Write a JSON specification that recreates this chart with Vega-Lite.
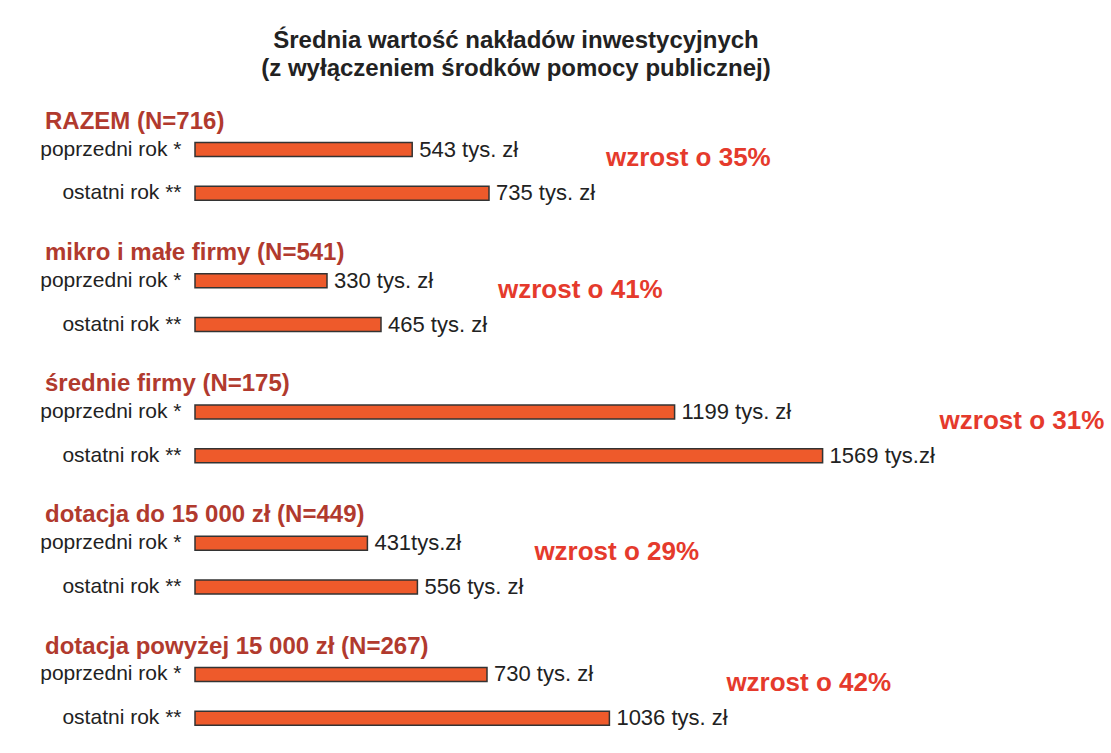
{
  "$schema": "https://vega.github.io/schema/vega-lite/v6.json",
  "width": 910,
  "height": 656,
  "autosize": {"type": "none"},
  "padding": {"left": 195, "top": 84, "right": 6, "bottom": 13},
  "background": "#ffffff",
  "config": {"font": "Liberation Sans", "view": {"stroke": null}},
  "title": {
    "text": ["Średnia wartość nakładów inwestycyjnych", "(z wyłączeniem środków pomocy publicznej)"],
    "fontSize": 24,
    "fontWeight": "bold",
    "color": "#222222",
    "anchor": "middle",
    "frame": "group",
    "dx": -134,
    "lineHeight": 28,
    "offset": 3
  },
  "data": {
    "values": [
      {"group": "RAZEM (N=716)", "period": "poprzedni rok *", "key": "RAZEM (N=716)|poprzedni rok *", "value": 543, "label": "543 tys. zł", "growth": null},
      {"group": "RAZEM (N=716)", "period": "ostatni rok **", "key": "RAZEM (N=716)|ostatni rok **", "value": 735, "label": "735 tys. zł", "growth": "wzrost o 35%"},
      {"group": "mikro i małe firmy (N=541)", "period": "poprzedni rok *", "key": "mikro i małe firmy (N=541)|poprzedni rok *", "value": 330, "label": "330 tys. zł", "growth": null},
      {"group": "mikro i małe firmy (N=541)", "period": "ostatni rok **", "key": "mikro i małe firmy (N=541)|ostatni rok **", "value": 465, "label": "465 tys. zł", "growth": "wzrost o 41%"},
      {"group": "średnie firmy (N=175)", "period": "poprzedni rok *", "key": "średnie firmy (N=175)|poprzedni rok *", "value": 1199, "label": "1199 tys. zł", "growth": null},
      {"group": "średnie firmy (N=175)", "period": "ostatni rok **", "key": "średnie firmy (N=175)|ostatni rok **", "value": 1569, "label": "1569 tys.zł", "growth": "wzrost o 31%"},
      {"group": "dotacja do 15 000 zł (N=449)", "period": "poprzedni rok *", "key": "dotacja do 15 000 zł (N=449)|poprzedni rok *", "value": 431, "label": "431tys.zł", "growth": null},
      {"group": "dotacja do 15 000 zł (N=449)", "period": "ostatni rok **", "key": "dotacja do 15 000 zł (N=449)|ostatni rok **", "value": 556, "label": "556 tys. zł", "growth": "wzrost o 29%"},
      {"group": "dotacja powyżej 15 000 zł (N=267)", "period": "poprzedni rok *", "key": "dotacja powyżej 15 000 zł (N=267)|poprzedni rok *", "value": 730, "label": "730 tys. zł", "growth": null},
      {"group": "dotacja powyżej 15 000 zł (N=267)", "period": "ostatni rok **", "key": "dotacja powyżej 15 000 zł (N=267)|ostatni rok **", "value": 1036, "label": "1036 tys. zł", "growth": "wzrost o 42%"}
    ]
  },
  "encoding": {
    "y": {
      "field": "key",
      "type": "nominal",
      "title": null,
      "scale": {
        "domain": [
          "RAZEM (N=716)", "RAZEM (N=716)|poprzedni rok *", "RAZEM (N=716)|ostatni rok **",
          "mikro i małe firmy (N=541)", "mikro i małe firmy (N=541)|poprzedni rok *", "mikro i małe firmy (N=541)|ostatni rok **",
          "średnie firmy (N=175)", "średnie firmy (N=175)|poprzedni rok *", "średnie firmy (N=175)|ostatni rok **",
          "dotacja do 15 000 zł (N=449)", "dotacja do 15 000 zł (N=449)|poprzedni rok *", "dotacja do 15 000 zł (N=449)|ostatni rok **",
          "dotacja powyżej 15 000 zł (N=267)", "dotacja powyżej 15 000 zł (N=267)|poprzedni rok *", "dotacja powyżej 15 000 zł (N=267)|ostatni rok **"
        ],
        "paddingInner": 0,
        "paddingOuter": 0
      },
      "axis": {
        "title": null,
        "ticks": false,
        "domain": false,
        "grid": false,
        "labelPadding": 14,
        "labelFontSize": 21,
        "labelColor": "#222222",
        "labelExpr": "indexof(datum.value, '|') < 0 ? '' : slice(datum.value, indexof(datum.value, '|') + 1)"
      }
    }
  },
  "layer": [
    {
      "mark": {"type": "bar", "height": 14, "fill": "#EE5A2B", "stroke": "#333333", "strokeWidth": 1.5},
      "encoding": {
        "x": {"field": "value", "type": "quantitative", "scale": {"domain": [0, 2275], "nice": false, "zero": true}, "axis": null}
      }
    },
    {
      "mark": {"type": "text", "align": "left", "baseline": "middle", "dx": 7, "fontSize": 22, "color": "#222222"},
      "encoding": {
        "x": {"field": "value", "type": "quantitative"},
        "text": {"field": "label"}
      }
    },
    {
      "transform": [{"filter": "datum.growth != null"}],
      "mark": {"type": "text", "align": "left", "baseline": "middle", "dx": 117, "dy": -35, "fontSize": 26, "fontWeight": "bold", "color": "#E53A2C"},
      "encoding": {
        "x": {"field": "value", "type": "quantitative"},
        "text": {"field": "growth"}
      }
    },
    {
      "transform": [{"filter": "datum.period == 'poprzedni rok *'"}],
      "mark": {"type": "text", "align": "left", "baseline": "middle", "dx": -150, "dy": 16, "fontSize": 24, "fontWeight": "bold", "color": "#B13A2E"},
      "encoding": {
        "y": {"field": "group", "type": "nominal", "title": null},
        "x": {"datum": 0, "type": "quantitative"},
        "text": {"field": "group"}
      }
    }
  ]
}
